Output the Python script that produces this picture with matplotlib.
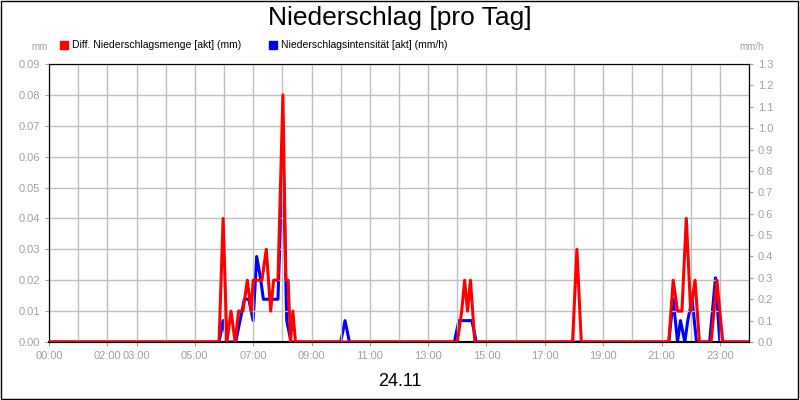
import numpy as np
import matplotlib.pyplot as plt

plt.rcParams['font.family'] = ['Liberation Sans', 'DejaVu Sans']

# time in hours (10 min steps)
red_t = [0, 5.83, 5.97, 6.1, 6.24, 6.38, 6.5, 6.65, 6.8, 6.93, 7.0, 7.1, 7.2, 7.3, 7.45, 7.6, 7.7, 7.85, 8.02, 8.12, 8.2, 8.28, 8.36, 8.45,
         14.0, 14.15, 14.25, 14.35, 14.45, 14.6, 17.95, 18.1, 18.25,
         21.25, 21.4, 21.55, 21.7, 21.85, 22.0, 22.15, 22.3, 22.7, 22.9, 23.1, 24]
red_v = [0, 0, 0.04, 0, 0.01, 0, 0.01, 0.01, 0.02, 0.01, 0.02, 0.02, 0.02, 0.02, 0.03, 0.01, 0.02, 0.02, 0.08, 0.02, 0.02, 0, 0.01, 0,
         0, 0.01, 0.02, 0.01, 0.02, 0, 0, 0.03, 0,
         0, 0.02, 0.01, 0.01, 0.04, 0.01, 0.02, 0, 0, 0.02, 0, 0]
blue_t = [0, 5.83, 5.97, 6.1, 6.4, 6.55, 6.7, 6.85, 7.0, 7.12, 7.25, 7.35, 7.6, 7.85, 8.02, 8.15, 8.3,
          10.0, 10.15, 10.3, 13.9, 14.05, 14.2, 14.35, 14.5, 14.65,
          21.25, 21.4, 21.55, 21.65, 21.8, 21.9, 22.05, 22.2, 22.65, 22.85, 23.0, 24]
blue_v = [0, 0, 0.1, 0, 0, 0.1, 0.2, 0.2, 0.1, 0.4, 0.3, 0.2, 0.2, 0.2, 0.9, 0.1, 0,
          0, 0.1, 0, 0, 0.1, 0.1, 0.1, 0.1, 0,
          0, 0.2, 0, 0.1, 0, 0.1, 0.2, 0, 0, 0.3, 0, 0]
tick_hours = [0, 2, 3, 5, 7, 9, 11, 13, 15, 17, 19, 21, 23]

fig = plt.figure(figsize=(8, 4), dpi=100)
fig.patch.set_facecolor('white')
ax = fig.add_axes([0.06125, 0.145, 0.875, 0.695])
ax2 = ax.twinx()

ax.plot(red_t, red_v, color='#ff0000', lw=2.2, zorder=3)
ax2.plot(blue_t, blue_v, color='#0000ff', lw=2.2, zorder=2)
ax.set_zorder(ax2.get_zorder() + 1)
ax.patch.set_visible(False)

ax.set_xlim(0, 24)
ax.set_ylim(0, 0.09)
ax2.set_ylim(0, 1.3)
ax.set_yticks(np.arange(0, 0.0901, 0.01))
ax.set_yticklabels([f"{v:.2f}" for v in np.arange(0, 0.0901, 0.01)])
ax2.set_yticks(np.arange(0, 1.301, 0.1))
ax2.set_yticklabels([f"{v:.1f}" for v in np.arange(0, 1.301, 0.1)])
ax.set_xticks(range(25), minor=True)
ax.set_xticks(tick_hours)
ax.set_xticklabels([f"{h:02d}:00" for h in tick_hours])
ax.grid(True, which='both', color='#c0c0c0', lw=1)
for a in (ax, ax2):
    a.tick_params(labelsize=8, colors='#a0a0a0', length=3, which='both')
    for s in a.spines.values():
        s.set_color('black')
ax.tick_params(which='minor', length=0)
ax.spines['bottom'].set_linewidth(1.5)

fig.text(0.5, 0.955, "Niederschlag [pro Tag]", ha='center', va='center', fontsize=19)
fig.text(0.5, 0.045, "24.11", ha='center', va='center', fontsize=13)
fig.text(0.05, 0.875, "mm", ha='center', fontsize=7, color='#a0a0a0')
fig.text(0.955, 0.875, "mm/h", ha='right', fontsize=7, color='#a0a0a0')
fig.patches.append(plt.Rectangle((0.075, 0.878), 0.01, 0.02, color='#ff0000', transform=fig.transFigure))
fig.text(0.09, 0.888, "Diff. Niederschlagsmenge [akt] (mm)", fontsize=7.5, va='center')
fig.patches.append(plt.Rectangle((0.336, 0.878), 0.01, 0.02, color='#0000ff', transform=fig.transFigure))
fig.text(0.351, 0.888, "Niederschlagsintensität [akt] (mm/h)", fontsize=7.5, va='center')
fig.patches.append(plt.Rectangle((0.001, 0.002), 0.997, 0.995, fill=False, ec='black', lw=1, transform=fig.transFigure))

fig.savefig("out.png", dpi=100)
